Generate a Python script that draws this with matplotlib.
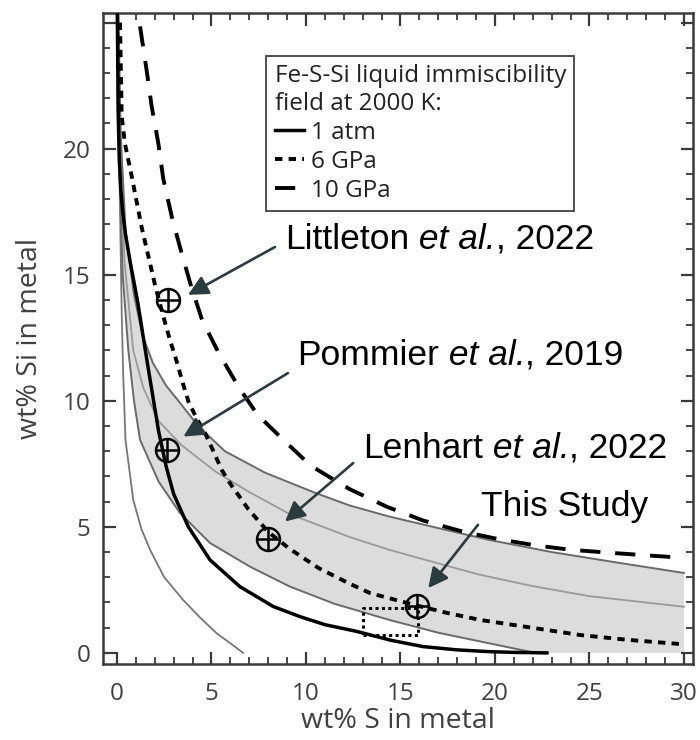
import matplotlib
matplotlib.use('Agg')
import matplotlib.pyplot as plt

# curves (wt% S, wt% Si)
s_1atm = [0.02, 0.06, 0.12, 0.2, 0.3, 0.45, 0.7, 1.1, 1.65, 2.2, 2.6, 3.0, 3.77, 4.92, 6.5, 8.27, 9.68, 11.0, 12.7, 14.5, 16.2, 18.0, 19.7, 21.0, 22.75]
si_1atm = [25.3, 21.5, 19.6, 18.4, 17.5, 16.6, 15.5, 13.9, 11.3, 8.8, 7.4, 6.3, 5.01, 3.69, 2.63, 1.84, 1.44, 1.12, 0.85, 0.5, 0.25, 0.12, 0.05, 0.02, 0.0]

s_6gpa = [0.16, 0.25, 0.42, 0.78, 1.3, 2.01, 2.45, 2.8, 3.16, 3.51, 3.78, 4.21, 4.66, 5.1, 5.54, 5.98, 6.95, 8.0, 9.15, 10.7, 12.3, 13.4, 15.86, 17.5, 19.2, 21.5, 24.5, 27.0, 30.0]
si_6gpa = [25.0, 21.3, 20.2, 18.9, 16.9, 14.6, 13.35, 12.42, 11.56, 10.63, 9.97, 9.31, 8.72, 8.0, 7.26, 6.73, 5.7, 4.8, 4.12, 3.35, 2.75, 2.37, 1.88, 1.58, 1.31, 1.05, 0.71, 0.52, 0.34]

s_10gpa = [1.22, 1.57, 1.83, 2.19, 2.45, 2.9, 3.33, 3.9, 4.51, 5.4, 6.42, 7.44, 8.89, 10.26, 12.3, 14.27, 16.2, 18.3, 20.2, 22.1, 24.0, 26.3, 28.4, 29.4]
si_10gpa = [24.85, 23.1, 21.7, 20.2, 18.8, 17.3, 16.1, 14.6, 13.19, 11.87, 10.57, 9.44, 8.39, 7.42, 6.5, 5.8, 5.25, 4.81, 4.51, 4.27, 4.09, 3.96, 3.85, 3.8]

s_upper = [0.08, 0.2, 0.45, 0.9, 1.35, 1.9, 2.6, 3.3, 4.3, 5.71, 7.83, 10.48, 12.3, 14.4, 17.0, 19.7, 23.0, 26.5, 30.0]
si_upper = [25.3, 20.5, 16.8, 14.2, 12.6, 11.5, 10.6, 9.95, 9.0, 8.0, 7.15, 6.35, 5.85, 5.41, 4.95, 4.48, 4.0, 3.58, 3.17]

s_mid = [0.05, 0.15, 0.4, 0.86, 1.4, 2.2, 3.4, 5.2, 6.95, 9.15, 12.3, 14.4, 17.0, 19.2, 22.0, 25.0, 30.0]
si_mid = [25.3, 20.0, 15.5, 12.0, 10.5, 9.2, 8.25, 7.2, 6.4, 5.5, 4.6, 4.09, 3.55, 3.1, 2.65, 2.25, 1.83]

s_lower = [0.03, 0.1, 0.3, 0.6, 0.9, 1.22, 2.2, 3.33, 4.92, 7.04, 9.15, 11.5, 14.4, 17.0, 19.7, 21.5, 22.2]
si_lower = [25.3, 20.0, 15.0, 12.0, 10.0, 8.45, 6.8, 5.55, 4.36, 3.42, 2.63, 1.95, 1.31, 0.8, 0.38, 0.1, 0.0]

s_thin = [0.05, 0.15, 0.25, 0.33, 0.45, 0.86, 1.3, 1.75, 2.5, 3.5, 4.4, 5.27, 6.0, 6.68]
si_thin = [25.3, 18.0, 13.5, 11.0, 8.45, 6.07, 4.9, 4.09, 3.0, 2.1, 1.4, 0.78, 0.38, 0.0]

# studies
study_s = [2.72, 2.66, 8.0, 15.86]
study_si = [14.0, 8.05, 4.52, 1.88]

# dotted box (This Study range)
box_s = [13.0, 15.94]
box_si = [0.71, 1.77]

xticks = [0, 5, 10, 15, 20, 25, 30]
yticks = [0, 5, 10, 15, 20, 25]
ytick_labels = ['0', '5', '10', '15', '20', '']

frame_col = '#3a3a3a'
label_col = '#404040'
arrow_col = '#2b3b40'
txt_font = 'Liberation Sans'
axis_font = 'Open Sans'

fig = plt.figure(figsize=(7, 7.4), dpi=100)
ax = fig.add_axes([103 / 700, 1 - 664 / 740, 590 / 700, 651 / 740])

# shaded band, lower edge closed along Si = 0 out to S = 30
band_s = list(s_upper) + [30.0] + list(s_lower[::-1])
band_si = list(si_upper) + [0.0] + list(si_lower[::-1])
ax.fill(band_s, band_si, color='#dcdcdc', lw=0, zorder=1)

ax.plot(s_thin, si_thin, color='#777777', lw=1.3, zorder=2)
ax.plot(s_lower, si_lower, color='#6a6a6a', lw=1.4, zorder=2)
ax.plot(s_mid, si_mid, color='#9a9a9a', lw=1.3, zorder=2)
ax.plot(s_upper, si_upper, color='#6a6a6a', lw=1.4, zorder=2)

l1, = ax.plot(s_1atm, si_1atm, color='black', lw=2.5, zorder=3, label='1 atm')
l2, = ax.plot(s_6gpa, si_6gpa, color='black', lw=2.8, ls=(0, (1.9, 1.6)), zorder=3, label='6 GPa')
l3, = ax.plot(s_10gpa, si_10gpa, color='black', lw=2.8, ls=(0, (5.2, 3.8)), zorder=3, label='10 GPa')

ax.plot([box_s[0], box_s[1], box_s[1], box_s[0], box_s[0]],
        [box_si[0], box_si[0], box_si[1], box_si[1], box_si[0]],
        color='black', lw=2.2, ls=(0, (1, 1.1)), zorder=3)

# circled-plus markers
ax.plot(study_s, study_si, ls='none', marker='o', ms=16.5, mfc='none', mec='black', mew=1.8, zorder=5)
ax.plot(study_s, study_si, ls='none', marker='+', ms=16.5, mec='black', mew=1.8, zorder=5)

# arrows
arrows = [((8.36, 16.1), (3.76, 14.2)),
          ((9.05, 11.1), (3.51, 8.58)),
          ((12.5, 7.53), (8.89, 5.21)),
          ((19.1, 5.08), (16.47, 2.57))]
for tail, tip in arrows:
    ax.annotate('', xy=tip, xytext=tail,
                arrowprops=dict(arrowstyle='-|>', color=arrow_col, lw=1.9,
                                mutation_scale=30, shrinkA=0, shrinkB=0),
                zorder=6)

# labels, "et al." in italics, pieces chained on one baseline
labels = [(8.89, 16.03, [('Littleton', 'normal'), (' et al.', 'italic'), (', 2022', 'normal')]),
          (9.52, 11.43, [('Pommier', 'normal'), (' et al.', 'italic'), (', 2019', 'normal')]),
          (13.0, 7.74, [('Lenhart', 'normal'), (' et al.', 'italic'), (', 2022', 'normal')]),
          (19.26, 5.44, [('This Study', 'normal')])]
for x, y, parts in labels:
    t = ax.text(x, y, parts[0][0], fontsize=25.5, family=txt_font, style=parts[0][1],
                va='baseline', ha='left', zorder=6)
    for s, st in parts[1:]:
        t = ax.annotate(s, xy=(1, 0), xycoords=t, va='bottom', ha='left',
                        fontsize=25.5, family=txt_font, style=st, zorder=6)

leg = ax.legend(handles=[l1, l2, l3],
                title='Fe-S-Si liquid immiscibility\nfield at 2000 K:',
                loc='upper left', bbox_to_anchor=(0.2763, 0.934), borderaxespad=0,
                frameon=True, fancybox=False, handlelength=1.2, handletextpad=0.3,
                labelspacing=0.2, borderpad=0.35, alignment='left',
                prop={'family': axis_font, 'size': 17.5},
                title_fontproperties={'family': axis_font, 'size': 17.5})
leg.get_frame().set_edgecolor('#222222')
leg.get_frame().set_linewidth(1.4)
leg.set_zorder(7)
for txt in leg.get_texts() + [leg.get_title()]:
    txt.set_color('#222222')

ax.set_xlim(-0.74, 30.48)
ax.set_ylim(-0.44, 25.38)
ax.set_xticks(xticks)
ax.set_xticks(range(0, 31), minor=True)
ax.set_yticks(yticks)
ax.set_yticklabels(ytick_labels)
ax.set_yticks(range(0, 26), minor=True)

ax.tick_params(which='both', direction='in', top=True, right=True, color=frame_col)
ax.tick_params(which='major', length=9, width=1.6, labelsize=17.5, labelcolor=label_col, pad=9)
ax.tick_params(which='minor', length=5, width=1.3)
ax.tick_params(axis='x', which='major', pad=13)
for lab in ax.get_xticklabels() + ax.get_yticklabels():
    lab.set_family(axis_font)
for sp in ax.spines.values():
    sp.set_color(frame_col)
    sp.set_linewidth(1.8)

ax.set_xlabel('wt% S in metal', fontsize=20.5, family=axis_font, color=label_col)
ax.set_ylabel('wt% Si in metal', fontsize=20.5, family=axis_font, color=label_col)
ax.xaxis.set_label_coords(0.5, -0.066)
ax.yaxis.set_label_coords(-0.1, 0.5)

fig.savefig('out.png', dpi=100)
